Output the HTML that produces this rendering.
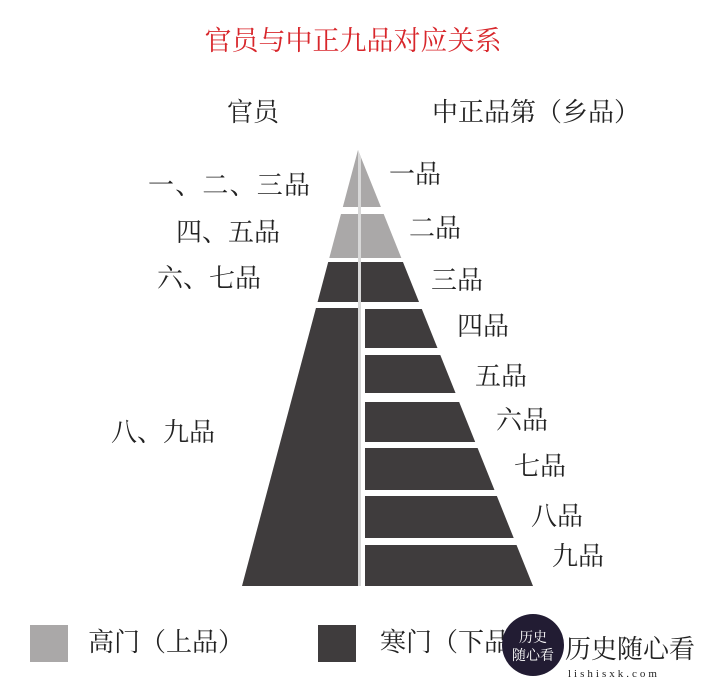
<!DOCTYPE html>
<html><head><meta charset="utf-8"><style>
body{margin:0;background:#fff;}
svg text{font-family:"Liberation Serif","Noto Serif CJK SC",serif;}
</style></head><body>
<svg width="709" height="680" viewBox="0 0 709 680" xmlns="http://www.w3.org/2000/svg">
<rect width="709" height="680" fill="#fff"/>
<text x="353" y="50" font-size="27" fill="#d8262b" text-anchor="middle">官员与中正九品对应关系</text>
<text x="253" y="121" font-size="26" fill="#222" text-anchor="middle">官员</text>
<text x="536" y="121" font-size="26" fill="#222" text-anchor="middle">中正品第（乡品）</text>
<defs><clipPath id="tri"><polygon points="358,150 242,586 533,586"/></clipPath></defs>
<g clip-path="url(#tri)">
<rect x="200" y="150" width="400" height="57" fill="#aaa8a8"/>
<rect x="200" y="214" width="400" height="44" fill="#aaa8a8"/>
<rect x="200" y="262" width="400" height="40" fill="#3f3c3d"/>
<rect x="200" y="308" width="160" height="278" fill="#3f3c3d"/>
<rect x="365" y="309" width="240" height="39" fill="#3f3c3d"/>
<rect x="365" y="355" width="240" height="38" fill="#3f3c3d"/>
<rect x="365" y="402" width="240" height="40" fill="#3f3c3d"/>
<rect x="365" y="448" width="240" height="42" fill="#3f3c3d"/>
<rect x="365" y="496" width="240" height="42" fill="#3f3c3d"/>
<rect x="365" y="545" width="240" height="41" fill="#3f3c3d"/>
<rect x="358" y="150" width="3" height="436" fill="#d8d8d8"/>
</g>
<g font-size="26" fill="#222">
<text x="148" y="194" textLength="162">一、二、三品</text>
<text x="176" y="241">四、五品</text>
<text x="157" y="287">六、七品</text>
<text x="111" y="441">八、九品</text>
<text x="389" y="183">一品</text>
<text x="409" y="237">二品</text>
<text x="431" y="289">三品</text>
<text x="457" y="335">四品</text>
<text x="475" y="385">五品</text>
<text x="496" y="429">六品</text>
<text x="514" y="475">七品</text>
<text x="531" y="525">八品</text>
<text x="552" y="565">九品</text>
<text x="88" y="651">高门（上品）</text>
<text x="380" y="651">寒门（下品）</text>
</g>
<rect x="30" y="625" width="38" height="37" fill="#aaa8a8"/>
<rect x="318" y="625" width="38" height="37" fill="#3f3c3d"/>
<circle cx="533" cy="645" r="31" fill="#221c33"/>
<text x="533" y="642" font-size="14" fill="#fff" text-anchor="middle" font-family="Liberation Sans,Noto Sans CJK SC,sans-serif">历史</text>
<text x="533" y="660" font-size="14" fill="#fff" text-anchor="middle" font-family="Liberation Sans,Noto Sans CJK SC,sans-serif">随心看</text>
<text x="565" y="658" font-size="26" fill="#222">历史随心看</text>
<text x="568" y="677" font-size="11" fill="#222" font-family="Liberation Mono,monospace" letter-spacing="3">lishisxk.com</text>
</svg>
</body></html>
